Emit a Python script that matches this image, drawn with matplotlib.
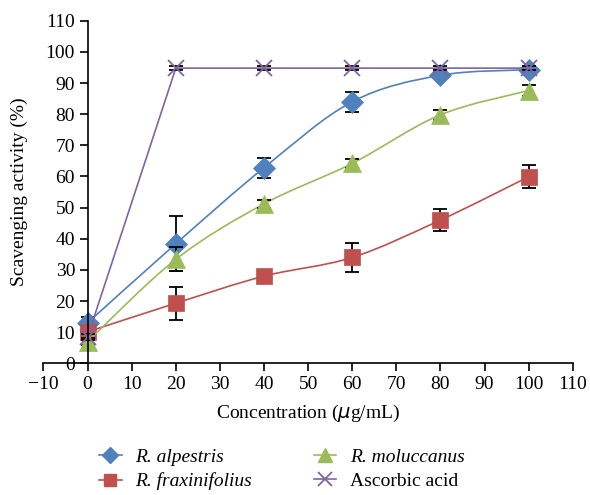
import matplotlib
matplotlib.use('Agg')
import matplotlib.pyplot as plt
from matplotlib.path import Path
import matplotlib.patches as patches
from matplotlib.lines import Line2D

plt.rcParams['font.family'] = ['Liberation Serif', 'DejaVu Serif']

conc = [0, 20, 40, 60, 80, 100]

alpestris = [13.0, 38.4, 62.8, 84.0, 92.5, 94.3]
alpestris_err = [1.8, 8.8, 3.2, 3.2, 1.0, 0.8]

fraxinifolius = [10.1, 19.3, 28.0, 34.0, 46.0, 59.9]
fraxinifolius_err = [1.0, 5.3, 0.8, 4.6, 3.6, 3.7]

moluccanus = [7.0, 33.4, 51.2, 64.2, 79.8, 87.6]
moluccanus_err = [1.0, 3.8, 1.2, 1.5, 1.5, 1.8]

ascorbic = [8.5, 94.8, 94.8, 94.8, 94.8, 94.8]
ascorbic_err = [1.0, 0.6, 0.6, 0.6, 0.6, 0.6]

blue = '#4F81BD'
red = '#C0504D'
green = '#9BBB59'
purple = '#8064A2'


def smooth_path(xs, ys):
    # excel-like smoothed line: cubic bezier between each pair of points
    pts = list(zip(xs, ys))
    verts = [pts[0]]
    codes = [Path.MOVETO]
    n = len(pts)
    for i in range(n - 1):
        p0 = pts[i - 1] if i > 0 else pts[i]
        p1 = pts[i]
        p2 = pts[i + 1]
        p3 = pts[i + 2] if i + 2 < n else pts[i + 1]
        c1 = (p1[0] + (p2[0] - p0[0]) / 6, p1[1] + (p2[1] - p0[1]) / 6)
        c2 = (p2[0] - (p3[0] - p1[0]) / 6, p2[1] - (p3[1] - p1[1]) / 6)
        verts += [c1, c2, p2]
        codes += [Path.CURVE4] * 3
    return Path(verts, codes)


fig = plt.figure(figsize=(5.9, 4.95), dpi=100)
ax = fig.add_axes([0.0737, 0.266, 0.897, 0.692])

series = [
    (alpestris, alpestris_err, blue, 'D', 11, True),
    (fraxinifolius, fraxinifolius_err, red, 's', 11.5, True),
    (moluccanus, moluccanus_err, green, '^', 12.5, True),
    (ascorbic, ascorbic_err, purple, 'x', 12, False),
]

for k, (vals, err, color, marker, ms, smooth) in enumerate(series):
    z = 2 + k * 0.1
    if smooth:
        ax.add_patch(patches.PathPatch(smooth_path(conc, vals), fill=False,
                                       edgecolor=color, lw=1.2, zorder=z))
    else:
        ax.plot(conc, vals, color=color, lw=1.2, zorder=z)
    ax.errorbar(conc, vals, yerr=err, fmt='none', ecolor='black',
                elinewidth=1.3, capsize=5, capthick=1.3, zorder=z + 0.01)
    ax.plot(conc, vals, ls='none', marker=marker, ms=ms, color=color,
            mew=1.3 if marker == 'x' else 0.5, mec=color, zorder=z + 0.02)

ax.set_xlim(-10, 110)
ax.set_ylim(0, 110)
ax.set_xticks(range(-10, 111, 10))
ax.set_yticks(range(0, 111, 10))
ax.set_xticklabels(['\u221210'] + [str(v) for v in range(0, 111, 10)])

ax.spines['left'].set_position(('data', 0))
ax.spines['top'].set_visible(False)
ax.spines['right'].set_visible(False)
for s in ['left', 'bottom']:
    ax.spines[s].set_linewidth(1.2)
ax.tick_params(axis='both', direction='out', length=6, width=1.2,
               labelsize=14, pad=3)
ax.patch.set_visible(False)

ax.set_xlabel('Concentration ($\\mu$g/mL)', fontsize=14, labelpad=7)
fig.text(0.033, 0.612, 'Scavenging activity (%)', rotation=90,
         ha='center', va='center', fontsize=14)

handles = [
    Line2D([], [], color=blue, marker='D', ms=8, lw=1.2),
    Line2D([], [], color=red, marker='s', ms=9, lw=1.2),
    Line2D([], [], color=green, marker='^', ms=10, lw=1.2),
    Line2D([], [], color=purple, marker='x', ms=10, mew=1.3, lw=1.2),
]
labels = ['R. alpestris', 'R. fraxinifolius', 'R. moluccanus', 'Ascorbic acid']
leg = fig.legend(handles, labels, ncol=2, loc='center',
                 bbox_to_anchor=(0.478, 0.052), frameon=False, fontsize=14,
                 handlelength=1.15, columnspacing=3.2, labelspacing=0.35,
                 handletextpad=0.7, borderpad=0.2)
for t in leg.get_texts()[:3]:
    t.set_style('italic')

fig.savefig('out.png', dpi=100)
